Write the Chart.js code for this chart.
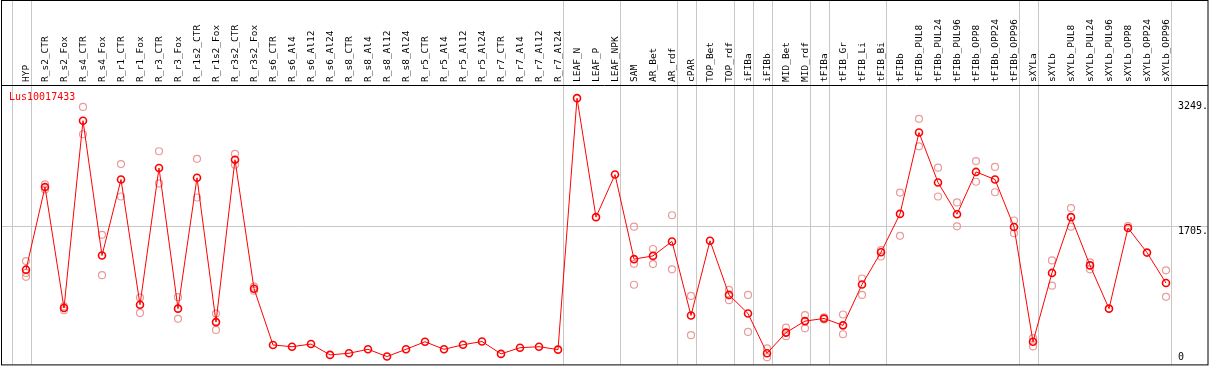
<!DOCTYPE html>
<html>
<head>
<meta charset="utf-8">
<script src="https://cdn.jsdelivr.net/npm/chart.js@4/dist/chart.umd.min.js"></script>
<style>
html, body { margin: 0; padding: 0; background: #fff; }
#wrap { width: 1209px; height: 370px; }
</style>
</head>
<body>
<div id="wrap"><canvas id="chart" width="1209" height="370"></canvas></div>
<script>
// Data
const geneName = 'Lus10017433';

const samples = [
    'HYP', 'R_s2_CTR', 'R_s2_Fox', 'R_s4_CTR', 'R_s4_Fox', 'R_r1_CTR', 'R_r1_Fox', 'R_r3_CTR', 'R_r3_Fox',
    'R_r1s2_CTR', 'R_r1s2_Fox', 'R_r3s2_CTR', 'R_r3s2_Fox',
    'R_s6_CTR', 'R_s6_Al4', 'R_s6_Al12', 'R_s6_Al24', 'R_s8_CTR', 'R_s8_Al4', 'R_s8_Al12', 'R_s8_Al24',
    'R_r5_CTR', 'R_r5_Al4', 'R_r5_Al12', 'R_r5_Al24', 'R_r7_CTR', 'R_r7_Al4', 'R_r7_Al12', 'R_r7_Al24',
    'LEAF_N', 'LEAF_P', 'LEAF_NPK', 'SAM', 'AR_Bet', 'AR_rdf', 'cPAR', 'TOP_Bet', 'TOP_rdf',
    'iFIBa', 'iFIBb', 'MID_Bet', 'MID_rdf', 'tFIBa', 'tFIB_Gr', 'tFIB_Li', 'tFIB_Bi', 'tFIBb',
    'tFIBb_PUL8', 'tFIBb_PUL24', 'tFIBb_PUL96', 'tFIBb_OPP8', 'tFIBb_OPP24', 'tFIBb_OPP96',
    'sXYLa', 'sXYLb', 'sXYLb_PUL8', 'sXYLb_PUL24', 'sXYLb_PUL96', 'sXYLb_OPP8', 'sXYLb_OPP24', 'sXYLb_OPP96'
];

const meanValues = [
    1136, 2204, 640, 3062, 1319, 2302, 683, 2451, 632, 2324, 458, 2557, 890,
    162, 140, 174, 34, 55, 106, 13, 106, 204, 106, 165, 207, 47, 127, 140, 102,
    3354, 1815, 2366, 1272, 1314, 1501, 543, 1510, 810, 569, 55, 322, 471,
    505, 416, 945, 1361, 1857, 2909, 2264, 1853, 2400, 2302, 1688,
    204, 1094, 1815, 1191, 632, 1675, 1357, 963
];

// replicate measurements (null = none shown)
const rep1 = [
    1247, 2239, 661, 3240, 1586, 2502, 776, 2667, 780, 2569, 568, 2633, 916,
    null, null, null, null, null, null, null, null, null, null, null, null, null, null, null, null,
    null, null, null, 1692, 1403, 1840, 797, null, 874, 810, 118, 386, 547,
    520, 556, 1022, 1390, 2133, 3087, 2455, 2006, 2540, 2464, 1772,
    250, 1255, 1933, 1230, null, 1700, null, 1128
];
const rep2 = [
    1094, 2172, 611, 2887, 1065, 2082, 576, 2251, 500, 2069, 356, 2493, 865,
    null, null, null, null, null, null, null, null, null, null, null, null, null, null, null, null,
    null, null, null, 1212, 1208, 1141, 289, null, 742, 331, 4, 276, 377,
    492, 301, 810, 1306, 1573, 2731, 2082, 1696, 2273, 2137, 1607,
    144, 929, 1692, 1141, null, null, null, 785
];
const rep3 = [
    1043, null, null, null, null, null, null, null, null, null, null, null, null,
    null, null, null, null, null, null, null, null, null, null, null, null, null, null, null, null,
    null, null, null, 941, null, null, null, null, null, null, null, null, null,
    null, null, null, null, null, null, null, null, null, null, null,
    null, null, null, null, null, null, null, null
];

const axisTicks = [3249, 1705, 0];
const gridValue = 1705;
// sample index after which a group separator is drawn
const groupEnds = [-1, 0, 28, 31, 34, 35, 37, 38, 39, 41, 42, 45, 52, 53, 60];

// ================= PLUGINS =================
const MONO = 'DejaVu Sans Mono';

const backdrop = {
    id: 'backdrop',
    beforeDatasetsDraw(chart) {
        const { ctx, width, scales: { x, y } } = chart;
        ctx.save();
        ctx.strokeStyle = '#c8c8c8';
        ctx.lineWidth = 1;
        // group separators run through the label strip too
        groupEnds.forEach(i => {
            const px = Math.round(x.getPixelForValue(i) + 5) + 0.5;
            ctx.beginPath();
            ctx.moveTo(px, 0);
            ctx.lineTo(px, chart.chartArea.bottom);
            ctx.stroke();
        });
        const gy = Math.round(y.getPixelForValue(gridValue)) + 0.5;
        ctx.beginPath();
        ctx.moveTo(1, gy);
        ctx.lineTo(width - 1, gy);
        ctx.stroke();
        ctx.restore();
    },
    afterDraw(chart) {
        const { ctx, width, chartArea, scales: { y } } = chart;
        ctx.save();
        // frame
        ctx.strokeStyle = '#000';
        ctx.lineWidth = 1;
        ctx.strokeRect(1.5, 0.5, width - 2.5, chartArea.bottom);
        ctx.beginPath();
        ctx.moveTo(1, chartArea.top + 0.5);
        ctx.lineTo(width - 1, chartArea.top + 0.5);
        ctx.stroke();
        // right-hand value labels
        ctx.fillStyle = '#000';
        ctx.font = `10px "${MONO}"`;
        ctx.textAlign = 'left';
        axisTicks.forEach(v => {
            const label = v === 0 ? '0' : v + '.';
            const py = y.getPixelForValue(v);
            ctx.textBaseline = v === gridValue ? 'top' : 'middle';
            ctx.fillText(label, chartArea.right + 2.5, v === gridValue ? py + 1 : py);
        });
        // gene name
        ctx.fillStyle = '#ff0000';
        ctx.textBaseline = 'middle';
        ctx.fillText(geneName, 9, chartArea.top + 12);
        ctx.restore();
    }
};

// ================= CHART =================
const repStyle = {
    type: 'line',
    showLine: false,
    pointRadius: 3.5,
    pointBorderWidth: 1.2,
    pointBorderColor: '#eb9a9a',
    pointBackgroundColor: 'rgba(0,0,0,0)'
};

new Chart(document.getElementById('chart'), {
    type: 'line',
    data: {
        labels: samples,
        datasets: [
            {
                data: meanValues,
                borderColor: '#ff0000',
                borderWidth: 1,
                pointRadius: 3.5,
                pointBorderWidth: 1.6,
                pointBorderColor: '#ff0000',
                pointBackgroundColor: 'rgba(0,0,0,0)',
                tension: 0
            },
            { ...repStyle, data: rep1 },
            { ...repStyle, data: rep2 },
            { ...repStyle, data: rep3 }
        ]
    },
    options: {
        responsive: false,
        animation: false,
        events: [],
        layout: { padding: { left: 16.5, right: 33.5, top: 0, bottom: 1 } },
        plugins: { legend: { display: false }, tooltip: { enabled: false } },
        scales: {
            x: {
                position: 'top',
                offset: true,
                grid: { display: false, drawTicks: false },
                border: { display: false },
                ticks: {
                    autoSkip: false,
                    minRotation: 90,
                    maxRotation: 90,
                    padding: 3,
                    labelOffset: 12,
                    color: '#000',
                    font: { family: MONO, size: 9.5 }
                },
                afterFit: scale => { scale.height = 85; }
            },
            y: { display: false, min: -89, max: 3524 }
        }
    },
    plugins: [backdrop]
});
</script>
</body>
</html>
